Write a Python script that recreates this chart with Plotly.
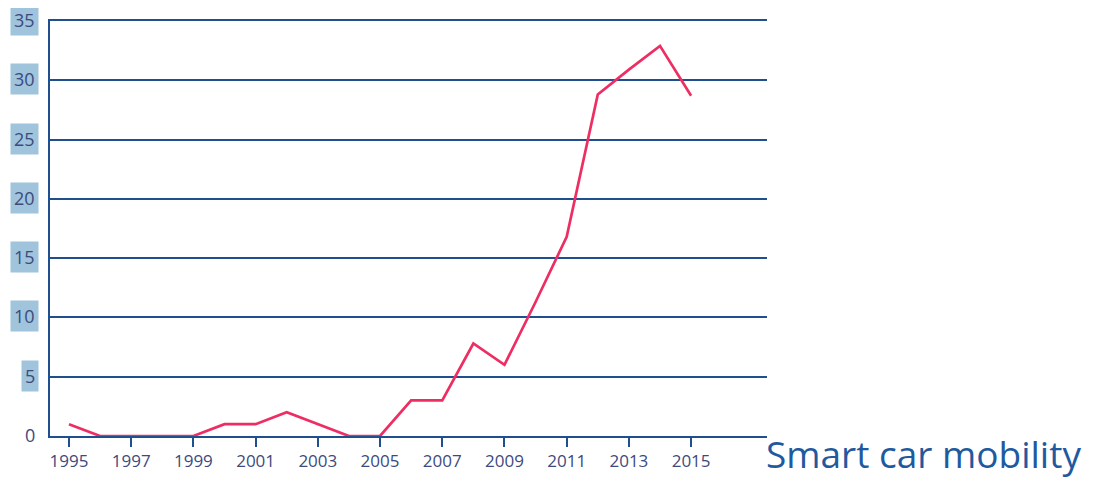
import plotly.graph_objects as go

years = [1995, 1996, 1997, 1998, 1999, 2000, 2001, 2002, 2003, 2004, 2005,
         2006, 2007, 2008, 2009, 2010, 2011, 2012, 2013, 2014, 2015]
values = [1, 0, 0, 0, 0, 1, 1, 2, 1, 0, 0,
          3, 3, 7.8, 6, 11.3, 16.8, 28.8, 30.9, 32.9, 28.7]
x_ticks = [1995, 1997, 1999, 2001, 2003, 2005, 2007, 2009, 2011, 2013, 2015]
y_ticks = [0, 5, 10, 15, 20, 25, 30, 35]
title_text = "Smart car mobility"

navy = "#1f4f8f"
tick_col = "#3d4a7e"
box_col = "#9fc4dc"
font_fam = "Open Sans, sans-serif"

fig = go.Figure()
fig.add_trace(go.Scatter(x=years, y=values, mode="lines",
                         line=dict(color="#ee2e63", width=2.7),
                         hoverinfo="skip", showlegend=False))

annotations = []
for v in y_ticks:
    annotations.append(dict(
        x=0, xref="paper", y=v, yref="y", xanchor="right", yanchor="middle",
        xshift=-11, yshift=1, text=str(v), showarrow=False,
        font=dict(family=font_fam, size=18, color=tick_col),
        bgcolor=(box_col if v != 0 else "rgba(0,0,0,0)"), borderpad=3))
annotations.append(dict(
    x=1, xref="paper", y=0, yref="paper", xanchor="left", yanchor="middle",
    xshift=-3, yshift=-17, text=title_text, showarrow=False,
    font=dict(family=font_fam, size=37, color="#1f5aa0")))

fig.update_layout(
    width=1099, height=471,
    margin=dict(l=42, r=340, t=13, b=43, autoexpand=False),
    paper_bgcolor="white", plot_bgcolor="white",
    showlegend=False,
    annotations=annotations,
    xaxis=dict(range=[1994.39, 2017.44], tickmode="array", tickvals=x_ticks,
               ticktext=[str(t) for t in x_ticks], automargin=False,
               showgrid=False, zeroline=False, showline=True, mirror=True,
               linecolor=navy, linewidth=2, ticks="outside", ticklen=9,
               tickwidth=2, tickcolor=navy,
               tickfont=dict(family=font_fam, size=17, color=tick_col)),
    yaxis=dict(range=[0, 35], tickmode="array", tickvals=y_ticks,
               showticklabels=False, showgrid=True, gridcolor=navy,
               gridwidth=2, zeroline=False, showline=True, linecolor=navy,
               linewidth=2, ticks="", automargin=False),
)

fig.write_html("out.html")
